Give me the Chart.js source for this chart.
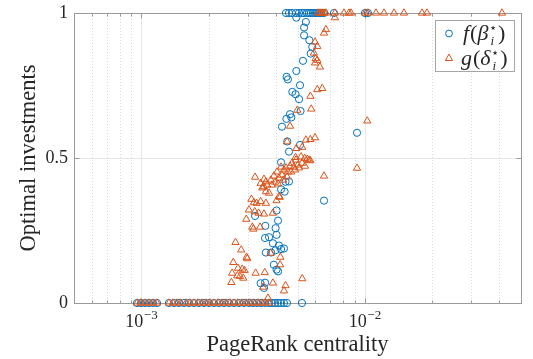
<!DOCTYPE html>
<html><head><meta charset="utf-8">
<script src="https://cdn.jsdelivr.net/npm/chart.js@4.4.1/dist/chart.umd.min.js"></script>
<style>html,body{margin:0;padding:0;background:#fff;}#wrap{width:533px;height:359px;}</style>
</head><body><div id="wrap"><canvas id="c" width="533" height="359"></canvas></div>
<script>
// ---- data (PageRank centrality vs optimal investments) ----
// f(beta*) : blue circles
const fX = [
 4.94e-3,5.45e-3,5.35e-3,5.35e-3,5.65e-3,5.82e-3,5.73e-3,5.29e-3,4.94e-3,4.47e-3,4.53e-3,5.13e-3,4.74e-3,4.90e-3,5.08e-3,5.16e-3,4.63e-3,4.69e-3,4.46e-3,4.26e-3,
 4.50e-3,4.58e-3,5.13e-3,4.22e-3,4.42e-3,4.58e-3,4.22e-3,4.38e-3,6.57e-3,4.03e-3,4.09e-3,3.23e-3,3.99e-3,3.59e-3,4.03e-3,3.73e-3,3.58e-3,3.88e-3,4.13e-3,4.22e-3,
 4.35e-3,3.61e-3,3.81e-3,3.99e-3,3.92e-3,4.03e-3,4.09e-3,3.42e-3,3.58e-3,3.54e-3,9.23e-3,
 4.44e-3,4.58e-3,4.72e-3,4.92e-3,5.08e-3,5.24e-3,5.35e-3,5.51e-3,5.63e-3,5.74e-3,5.86e-3,5.99e-3,6.11e-3,6.24e-3,6.37e-3,6.57e-3,7.28e-3,10.02e-3,10.33e-3,
 0.957e-3,0.997e-3,1.039e-3,1.083e-3,1.128e-3,1.176e-3,1.330e-3,1.401e-3,1.475e-3,1.553e-3,1.634e-3,1.721e-3,1.812e-3,1.908e-3,2.009e-3,2.115e-3,2.227e-3,2.344e-3,2.468e-3,2.599e-3,
 2.736e-3,2.880e-3,3.033e-3,3.161e-3,3.294e-3,3.433e-3,3.576e-3,3.727e-3,3.844e-3,3.965e-3,4.089e-3,4.217e-3,4.350e-3,4.486e-3,5.236e-3
];
const fY = [
 0.984,0.969,0.950,0.923,0.906,0.883,0.860,0.835,0.800,0.780,0.771,0.751,0.728,0.720,0.703,0.662,0.651,0.640,0.635,0.608,
 0.557,0.522,0.545,0.485,0.418,0.419,0.392,0.384,0.353,0.319,0.284,0.300,0.258,0.266,0.235,0.227,0.224,0.206,0.198,0.186,
 0.188,0.174,0.174,0.182,0.132,0.115,0.109,0.068,0.070,0.052,0.587,
 1,1,1,1,1,1,1,1,1,1,1,1,1,1,1,1,1,1,1,
 0,0,0,0,0,0,0,0,0,0,0,0,0,0,0,0,0,0,0,0,
 0,0,0,0,0,0,0,0,0,0,0,0,0,0,0
];
// g(delta*) : orange triangles
const gX = [
 7.35e-3,6.70e-3,6.57e-3,5.99e-3,6.13e-3,5.92e-3,6.03e-3,6.13e-3,5.99e-3,6.30e-3,6.13e-3,6.45e-3,5.71e-3,5.76e-3,4.99e-3,4.63e-3,4.49e-3,4.94e-3,5.45e-3,5.71e-3,
 5.99e-3,5.25e-3,5.19e-3,4.90e-3,5.38e-3,5.53e-3,5.71e-3,6.57e-3,3.23e-3,3.54e-3,3.61e-3,3.42e-3,3.54e-3,3.66e-3,3.48e-3,3.73e-3,3.61e-3,
 3.80e-3,3.92e-3,4.05e-3,4.13e-3,4.26e-3,4.35e-3,4.44e-3,4.53e-3,4.63e-3,4.72e-3,4.82e-3,4.92e-3,5.02e-3,4.22e-3,3.97e-3,3.84e-3,4.09e-3,4.31e-3,4.49e-3,4.68e-3,
 4.87e-3,5.08e-3,5.24e-3,5.40e-3,5.63e-3,4.17e-3,4.03e-3,4.13e-3,
 3.11e-3,3.19e-3,3.28e-3,3.42e-3,3.61e-3,3.22e-3,3.35e-3,3.54e-3,3.88e-3,3.03e-3,2.95e-3,3.14e-3,3.17e-3,3.40e-3,2.64e-3,2.80e-3,2.96e-3,2.98e-3,2.58e-3,2.71e-3,
 2.83e-3,2.90e-3,2.55e-3,2.69e-3,2.76e-3,2.86e-3,3.25e-3,3.57e-3,2.53e-3,3.88e-3,3.51e-3,4.35e-3,4.42e-3,5.25e-3,3.69e-3,4.19e-3,4.18e-3,3.79e-3,9.23e-3,10.26e-3,
 6.17e-3,6.30e-3,6.43e-3,6.57e-3,6.70e-3,7.35e-3,8.07e-3,8.50e-3,8.68e-3,10.02e-3,10.33e-3,11.22e-3,12.19e-3,13.51e-3,14.97e-3,18.03e-3,18.98e-3,41.1e-3,
 0.957e-3,0.997e-3,1.039e-3,1.083e-3,1.128e-3,1.176e-3,1.330e-3,1.386e-3,1.444e-3,1.505e-3,1.585e-3,1.652e-3,1.721e-3,1.794e-3,1.869e-3,1.948e-3,2.030e-3,2.115e-3,2.204e-3,2.297e-3,
 2.393e-3,2.494e-3,2.599e-3,2.708e-3,2.822e-3,2.941e-3,3.064e-3,3.193e-3,3.328e-3,3.467e-3,3.576e-3,3.727e-3
];
const gY = [
 0.984,0.943,0.931,0.900,0.885,0.862,0.843,0.837,0.828,0.814,0.736,0.740,0.713,0.669,0.665,0.610,0.556,0.533,0.562,0.564,
 0.570,0.537,0.504,0.502,0.499,0.496,0.491,0.438,0.434,0.427,0.418,0.413,0.401,0.407,0.397,0.379,0.384,
 0.424,0.438,0.452,0.431,0.441,0.459,0.466,0.452,0.472,0.482,0.469,0.493,0.476,0.469,0.417,0.407,0.411,0.424,0.435,0.452,
 0.459,0.466,0.482,0.472,0.493,0.365,0.353,0.367,
 0.358,0.346,0.344,0.350,0.344,0.315,0.310,0.307,0.310,0.321,0.289,0.262,0.255,0.262,0.209,0.183,0.158,0.153,0.140,0.120,
 0.117,0.112,0.103,0.094,0.092,0.086,0.103,0.105,0.071,0.069,0.055,0.042,0.060,0.084,0.017,0.158,0.132,0.172,0.465,0.628,
 1,1,1,1,1,1,1,1,1,1,1,1,1,1,1,1,1,1,
 0,0,0,0,0,0,0,0,0,0,0,0,0,0,0,0,0,0,0,0,
 0,0,0,0,0,0,0,0,0,0,0,0
];
// axis ticks / labels
const xRange = [5e-4, 5e-2];
const yRange = [0, 1];
const xMajorTicks = [1e-3, 1e-2];
const xTickExponents = ['\u22123', '\u22122'];
const xMinorTicks = [5e-4,6e-4,7e-4,8e-4,9e-4,2e-3,3e-3,4e-3,5e-3,6e-3,7e-3,8e-3,9e-3,2e-2,3e-2,4e-2,5e-2];
const yTicks = [0, 0.5, 1];
const yTickLabels = ['0', '0.5', '1'];
const xTitle = 'PageRank centrality';
const yTitle = 'Optimal investments';

const BLUE = '#0072BD', ORANGE = '#D95319';
const SERIF = '"Liberation Serif", "DejaVu Serif", serif';

function pts(xs, ys){ return xs.map((v,i)=>({x:v, y:ys[i]})); }

const matlabPlugin = {
  id: 'matlab',
  beforeDatasetsDraw(chart){
    const {ctx, chartArea:a, scales:{x, y}} = chart;
    ctx.save();
    ctx.lineWidth = 1;
    ctx.strokeStyle = '#d9d9d9';
    ctx.setLineDash([1, 2]);
    for (const v of xMinorTicks){
      const px = Math.round(x.getPixelForValue(v)) + 0.5;
      ctx.beginPath(); ctx.moveTo(px, a.top); ctx.lineTo(px, a.bottom); ctx.stroke();
    }
    ctx.setLineDash([]);
    ctx.strokeStyle = '#e6e6e6';
    for (const v of xMajorTicks){
      const px = Math.round(x.getPixelForValue(v)) + 0.5;
      ctx.beginPath(); ctx.moveTo(px, a.top); ctx.lineTo(px, a.bottom); ctx.stroke();
    }
    for (const v of yTicks){
      const py = Math.round(y.getPixelForValue(v)) + 0.5;
      ctx.beginPath(); ctx.moveTo(a.left, py); ctx.lineTo(a.right, py); ctx.stroke();
    }
    ctx.strokeStyle = '#9a9a9a';
    const L = Math.round(a.left)+0.5, R = Math.round(a.right)+0.5, T = Math.round(a.top)+0.5, B = Math.round(a.bottom)+0.5;
    ctx.strokeRect(L, T, R-L, B-T);
    ctx.beginPath();
    for (const v of xMinorTicks){
      const px = Math.round(x.getPixelForValue(v)) + 0.5;
      ctx.moveTo(px, B); ctx.lineTo(px, B-3);
      ctx.moveTo(px, T); ctx.lineTo(px, T+3);
    }
    for (const v of xMajorTicks){
      const px = Math.round(x.getPixelForValue(v)) + 0.5;
      ctx.moveTo(px, B); ctx.lineTo(px, B-5);
      ctx.moveTo(px, T); ctx.lineTo(px, T+5);
    }
    for (const v of yTicks){
      const py = Math.round(y.getPixelForValue(v)) + 0.5;
      ctx.moveTo(L, py); ctx.lineTo(L+5, py);
      ctx.moveTo(R, py); ctx.lineTo(R-5, py);
    }
    ctx.stroke();
    ctx.restore();
  },
  afterDraw(chart){
    const {ctx, chartArea:a, scales:{x, y}} = chart;
    ctx.save();
    ctx.fillStyle = '#262626';
    ctx.font = '18px ' + SERIF;
    ctx.textAlign = 'right'; ctx.textBaseline = 'middle';
    yTicks.forEach((v,i)=>{ ctx.fillText(yTickLabels[i], a.left - 6, y.getPixelForValue(v)); });
    xMajorTicks.forEach((v,i)=>{
      const px = x.getPixelForValue(v);
      ctx.font = '18px ' + SERIF;
      const wb = ctx.measureText('10').width;
      ctx.font = '13px ' + SERIF;
      const we = ctx.measureText(xTickExponents[i]).width;
      const start = px - (wb + we)/2;
      ctx.textAlign = 'left'; ctx.textBaseline = 'alphabetic';
      ctx.font = '18px ' + SERIF;
      ctx.fillText('10', start, 327);
      ctx.font = '13px ' + SERIF;
      ctx.fillText(xTickExponents[i], start + wb + 0.5, 319);
    });
    ctx.font = '22.5px ' + SERIF;
    ctx.textAlign = 'center'; ctx.textBaseline = 'alphabetic';
    ctx.fillText(xTitle, (a.left + a.right)/2, 351);
    ctx.save();
    ctx.translate(35, (a.top + a.bottom)/2);
    ctx.rotate(-Math.PI/2);
    ctx.fillText(yTitle, 0, 0);
    ctx.restore();
    // legend
    const lx = 435.5, ly = 20.5, lw = 79, lh = 51;
    ctx.fillStyle = '#fff';
    ctx.fillRect(lx, ly, lw, lh);
    ctx.strokeStyle = '#a6a6a6'; ctx.lineWidth = 1;
    ctx.strokeRect(lx, ly, lw, lh);
    ctx.lineWidth = 1;
    ctx.strokeStyle = BLUE;
    ctx.beginPath(); ctx.arc(449, 33.5, 3.4, 0, Math.PI*2); ctx.stroke();
    ctx.strokeStyle = ORANGE;
    ctx.beginPath();
    ctx.moveTo(449, 54); ctx.lineTo(452.6, 60.5); ctx.lineTo(445.4, 60.5); ctx.closePath(); ctx.stroke();
    ctx.fillStyle = '#262626';
    ctx.textAlign = 'left'; ctx.textBaseline = 'alphabetic';
    function entry(fn, greek, xs, base){
      let cx = xs;
      ctx.font = 'italic 22px ' + SERIF; ctx.fillText(fn, cx, base); cx += ctx.measureText(fn).width + 1;
      ctx.font = '22px ' + SERIF; ctx.fillText('(', cx, base); cx += ctx.measureText('(').width;
      ctx.font = 'italic 22px ' + SERIF; ctx.fillText(greek, cx, base); cx += ctx.measureText(greek).width + 0.5;
      ctx.font = '13px "DejaVu Sans", ' + SERIF; ctx.fillText('\u22C6', cx, base - 8);
      const ws = ctx.measureText('\u22C6').width;
      ctx.font = 'italic 13px ' + SERIF; ctx.fillText('i', cx + 1.5, base + 5);
      cx += ws + 1;
      ctx.font = '22px ' + SERIF; ctx.fillText(')', cx, base);
    }
    entry('f', '\u03B2', 463, 40);
    entry('g', '\u03B4', 461, 65);
    ctx.restore();
  }
};

new Chart(document.getElementById('c'), {
  type: 'scatter',
  data: {
    datasets: [
      { label: 'g', data: pts(gX, gY), pointStyle: 'triangle', pointRadius: 4.2, borderColor: ORANGE,
        backgroundColor: 'rgba(0,0,0,0)', borderWidth: 1, pointHoverRadius: 4.2, order: 0, clip: false },
      { label: 'f', data: pts(fX, fY), pointStyle: 'circle', pointRadius: 3.6, borderColor: BLUE,
        backgroundColor: 'rgba(0,0,0,0)', borderWidth: 1, pointHoverRadius: 3.6, order: 1, clip: false }
    ]
  },
  options: {
    responsive: false, animation: false, devicePixelRatio: 1,
    layout: { padding: { left: 74, right: 12, top: 13, bottom: 56 } },
    plugins: { legend: { display: false }, tooltip: { enabled: false } },
    events: [],
    scales: {
      x: { type: 'logarithmic', min: xRange[0], max: xRange[1], display: false },
      y: { type: 'linear', min: yRange[0], max: yRange[1], display: false }
    }
  },
  plugins: [matlabPlugin]
});
</script>
</body></html>
